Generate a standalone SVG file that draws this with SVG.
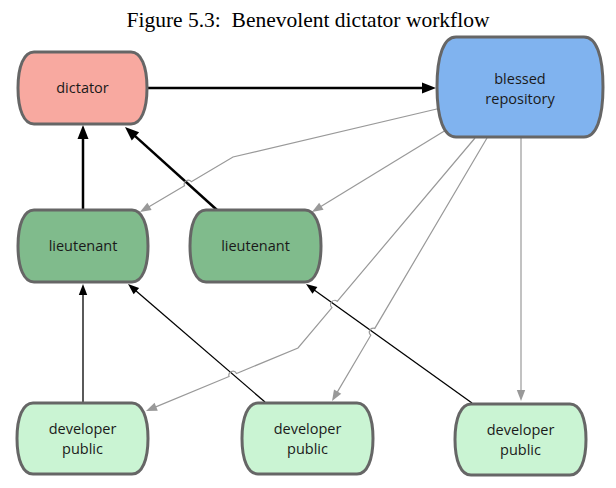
<svg xmlns="http://www.w3.org/2000/svg" width="616" height="488" viewBox="0 0 616 488">
<style>
.title{font-family:"Liberation Serif","Times New Roman",serif;font-size:21.5px;fill:#000}
.node path{stroke:#666;stroke-width:3}
.node text{font-family:"Open Sans","DejaVu Sans",sans-serif;font-size:14.5px;fill:#1a1a1a;text-anchor:middle}
.dict{fill:#f8a9a0}
.bless{fill:#80b3ef}
.lt{fill:#80bb8c}
.dev{fill:#caf4d3}
.thick{stroke:#000;stroke-width:2.5;fill:none}
.thin{stroke:#000;stroke-width:1.3;fill:none}
.grey{stroke:#999;stroke-width:1.2;fill:none}
</style>
<defs>
<marker id="aBig" viewBox="-3 -6 15 12" refX="0" refY="0" markerWidth="15" markerHeight="12" markerUnits="userSpaceOnUse" orient="auto" overflow="visible"><path d="M11,0 L-3,-5.5 L-3,5.5 Z" fill="#000"/></marker>
<marker id="aThin" viewBox="-3 -5 12 10" refX="0" refY="0" markerWidth="12" markerHeight="10" markerUnits="userSpaceOnUse" orient="auto" overflow="visible"><path d="M8,0 L-3,-4.2 L-3,4.2 Z" fill="#000"/></marker>
<marker id="aGrey" viewBox="-3 -5 12 10" refX="0" refY="0" markerWidth="12" markerHeight="10" markerUnits="userSpaceOnUse" orient="auto" overflow="visible"><path d="M8,0 L-3,-4.2 L-3,4.2 Z" fill="#999"/></marker>
</defs>
<text class="title" x="308" y="27" text-anchor="middle">Figure 5.3:&#160; Benevolent dictator workflow</text>
<g id="connectors">
<path class="thick" d="M147,88 L425,88" marker-end="url(#aBig)"/>
<path class="thick" d="M83,210 L83,136" marker-end="url(#aBig)"/>
<path class="thick" d="M217,210 L133.2,134.4" marker-end="url(#aBig)"/>
<path class="thin" d="M83,403 L83,292" marker-end="url(#aThin)"/>
<path class="thin" d="M265,402 L134.1,289.2" marker-end="url(#aThin)"/>
<path class="thin" d="M472,403 L312.5,288.7" marker-end="url(#aThin)"/>
<path class="grey" d="M441,108 L233,157 L191.3,181.7 A4,4 0 0 0 184.5,185.7 L146.9,207.9" marker-end="url(#aGrey)"/>
<path class="grey" d="M446,130 L318.8,207.8" marker-end="url(#aGrey)"/>
<path class="grey" d="M475,138 L337.2,301.4 A4,4 0 0 0 332,307.6 L298,348 L236.5,373.5 A4,4 0 0 0 229.1,376.5 L153.4,407.9" marker-end="url(#aGrey)"/>
<path class="grey" d="M487,138 L374.8,328.4 A4,4 0 0 0 370.8,335.2 L336.1,394.1" marker-end="url(#aGrey)"/>
<path class="grey" d="M521,138 L521,393" marker-end="url(#aGrey)"/>
</g>
<g id="dictator" class="node">
<path class="dict" d="M34,52 H131 C141,52 147,66 147,88 C147,110 141,124 131,124 H34 C24,124 18,110 18,88 C18,66 24,52 34,52 Z"/>
<text x="82.5" y="93">dictator</text>
</g>
<g id="blessed" class="node">
<path class="bless" d="M456,37 H584 C596,37 603,55 603,87 C603,119 596,137 584,137 H456 C444,137 437,119 437,87 C437,55 444,37 456,37 Z"/>
<text x="520" y="84">blessed</text>
<text x="520" y="103.5">repository</text>
</g>
<g id="lieutenant1" class="node">
<path class="lt" d="M34,210 H132 C142,210 148,224 148,246 C148,268 142,282 132,282 H34 C24,282 18,268 18,246 C18,224 24,210 34,210 Z"/>
<text x="83" y="251">lieutenant</text>
</g>
<g id="lieutenant2" class="node">
<path class="lt" d="M206,210 H305 C315,210 321,224 321,246 C321,268 315,282 305,282 H206 C196,282 190,268 190,246 C190,224 196,210 206,210 Z"/>
<text x="255.5" y="251">lieutenant</text>
</g>
<g id="developer1" class="node">
<path class="dev" d="M33,403 H132 C142,403 148,417 148,438.5 C148,460 142,474 132,474 H33 C23,474 17,460 17,438.5 C17,417 23,403 33,403 Z"/>
<text x="82.5" y="434">developer</text>
<text x="82.5" y="453.5">public</text>
</g>
<g id="developer2" class="node">
<path class="dev" d="M258,403 H357 C367,403 373,417 373,438.5 C373,460 367,474 357,474 H258 C248,474 242,460 242,438.5 C242,417 248,403 258,403 Z"/>
<text x="307.5" y="434">developer</text>
<text x="307.5" y="453.5">public</text>
</g>
<g id="developer3" class="node">
<path class="dev" d="M471,404 H570 C580,404 586,418 586,439.5 C586,461 580,475 570,475 H471 C461,475 455,461 455,439.5 C455,418 461,404 471,404 Z"/>
<text x="520.5" y="435">developer</text>
<text x="520.5" y="454.5">public</text>
</g>
</svg>
